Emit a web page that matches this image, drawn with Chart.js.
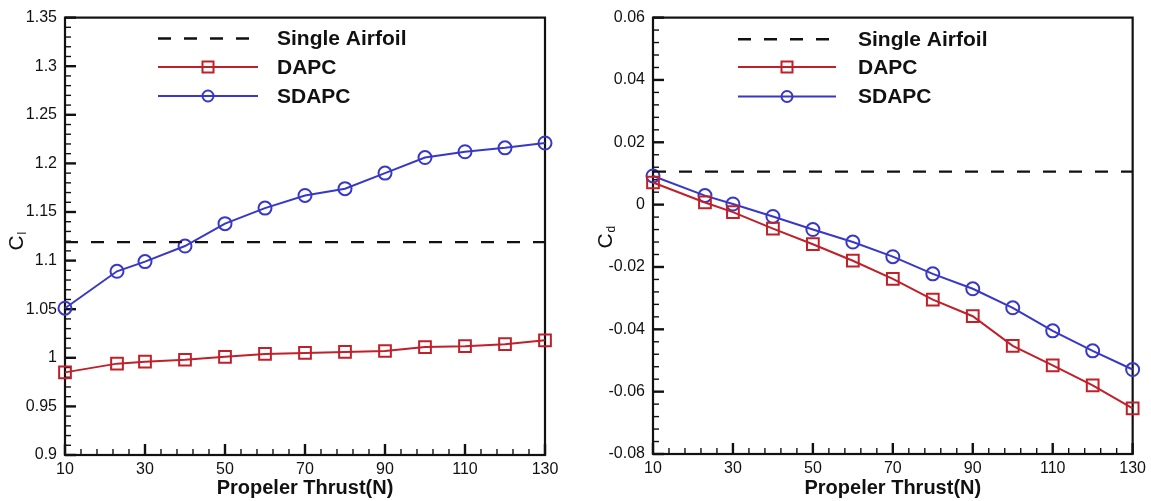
<!DOCTYPE html>
<html>
<head>
<meta charset="utf-8">
<script src="https://cdn.jsdelivr.net/npm/chart.js@4.4.1/dist/chart.umd.min.js"></script>
<style>
  html, body { margin: 0; padding: 0; background: #ffffff; }
  #wrap { position: relative; width: 1151px; height: 501px; overflow: hidden; background: #fff; }
  #c1 { position: absolute; left: 0; top: 0; }
  #c2 { position: absolute; left: 575px; top: 0; }
</style>
</head>
<body>
<div id="wrap">
  <canvas id="c1" width="575" height="501"></canvas>
  <canvas id="c2" width="576" height="501"></canvas>
</div>
<script>
// ---------------- data ----------------
const thrust = [10, 23, 30, 40, 50, 60, 70, 80, 90, 100, 110, 120, 130];

const clDAPC  = [0.985, 0.994, 0.996, 0.998, 1.001, 1.004, 1.005, 1.006, 1.007, 1.011, 1.012, 1.014, 1.018];
const clSDAPC = [1.051, 1.089, 1.099, 1.115, 1.138, 1.154, 1.167, 1.174, 1.190, 1.206, 1.212, 1.216, 1.221];
const clSingle = 1.119;

const cdDAPC  = [0.0071, 0.0007, -0.0024, -0.0077, -0.0127, -0.0180, -0.0238, -0.0305, -0.0358, -0.0453, -0.0516, -0.0580, -0.0654];
const cdSDAPC = [0.0092, 0.0029, 0.0002, -0.0038, -0.0080, -0.0120, -0.0167, -0.0222, -0.0270, -0.0331, -0.0405, -0.0469, -0.0529];
const cdSingle = 0.0106;

const xTickValues = [10, 30, 50, 70, 90, 110, 130];
const xTickLabels = ['10', '30', '50', '70', '90', '110', '130'];

const clTickValues = [0.9, 0.95, 1.0, 1.05, 1.1, 1.15, 1.2, 1.25, 1.3, 1.35];
const clTickLabels = ['0.9', '0.95', '1', '1.05', '1.1', '1.15', '1.2', '1.25', '1.3', '1.35'];

const cdTickValues = [-0.08, -0.06, -0.04, -0.02, 0, 0.02, 0.04, 0.06];
const cdTickLabels = ['-0.08', '-0.06', '-0.04', '-0.02', '0', '0.02', '0.04', '0.06'];

const seriesNames = ['Single Airfoil', 'DAPC', 'SDAPC'];
const xTitle = 'Propeler Thrust(N)';

// ---------------- styles ----------------
const RED = '#c0202a';
const BLUE = '#3838c8';
const INK = '#111111';
const FONT = '"Liberation Sans", Arial, Helvetica, sans-serif';

function pairs(xs, ys) { return xs.map((x, i) => ({ x: x, y: ys[i] })); }

// plugin: inward ticks, frame, axis symbol title, legend
const tecplotPlugin = {
  id: 'tecplot',
  beforeDatasetsDraw(chart, args, o) {
    const { ctx, chartArea: a, scales } = chart;
    const xs = scales.x, ys = scales.y;
    ctx.save();
    ctx.strokeStyle = INK;
    const nx = Math.round((xs.max - xs.min) / o.xMinor);
    for (let i = 0; i <= nx; i++) {
      const v = xs.min + i * o.xMinor;
      const r = (v - xs.min) / o.xMajor;
      const major = Math.abs(r - Math.round(r)) < 1e-6;
      const px = xs.getPixelForValue(v);
      ctx.lineWidth = major ? 2.4 : 1.4;
      ctx.beginPath();
      ctx.moveTo(px, a.bottom);
      ctx.lineTo(px, a.bottom - (major ? 11 : 6));
      ctx.stroke();
    }
    const ny = Math.round((ys.max - ys.min) / o.yMinor);
    for (let i = 0; i <= ny; i++) {
      const v = ys.min + i * o.yMinor;
      const r = (v - ys.min) / o.yMajor;
      const major = Math.abs(r - Math.round(r)) < 1e-6;
      const py = ys.getPixelForValue(v);
      ctx.lineWidth = major ? 2.4 : 1.4;
      ctx.beginPath();
      ctx.moveTo(a.left, py);
      ctx.lineTo(a.left + (major ? 11 : 6), py);
      ctx.stroke();
    }
    ctx.lineWidth = 2.2;
    ctx.strokeRect(a.left, a.top, a.right - a.left, a.bottom - a.top);
    ctx.restore();
  },
  afterDraw(chart, args, o) {
    const { ctx } = chart;
    ctx.save();
    ctx.fillStyle = INK;
    ctx.translate(o.symX, o.symY);
    ctx.rotate(-Math.PI / 2);
    ctx.textAlign = 'center';
    ctx.textBaseline = 'middle';
    ctx.font = '21px ' + FONT;
    ctx.fillText('C', 0, 0);
    const cw = ctx.measureText('C').width;
    ctx.font = '12px ' + FONT;
    ctx.textAlign = 'left';
    ctx.fillText(o.sub, cw / 2 + 1, 6);
    ctx.restore();

    ctx.save();
    chart.data.datasets.forEach((ds, i) => {
      const y = o.legY[i];
      ctx.strokeStyle = ds.borderColor;
      ctx.lineWidth = ds.borderWidth;
      ctx.setLineDash(ds.borderDash || []);
      ctx.beginPath();
      ctx.moveTo(o.legX1, y);
      ctx.lineTo(o.legX2, y);
      ctx.stroke();
      ctx.setLineDash([]);
      if (ds.pointRadius > 0) {
        const mx = (o.legX1 + o.legX2) / 2;
        ctx.lineWidth = 2;
        ctx.strokeStyle = ds.pointBorderColor;
        ctx.beginPath();
        if (ds.pointStyle === 'rect') {
          ctx.rect(mx - 5.5, y - 5.5, 11, 11);
        } else {
          ctx.arc(mx, y, 5.5, 0, Math.PI * 2);
        }
        ctx.stroke();
      }
      ctx.fillStyle = INK;
      ctx.font = 'bold 21px ' + FONT;
      ctx.textAlign = 'left';
      ctx.textBaseline = 'middle';
      ctx.fillText(ds.label, o.legTextX, y + 1);
    });
    ctx.restore();
  }
};

function makeChart(canvasId, cfg) {
  return new Chart(document.getElementById(canvasId), {
    type: 'line',
    data: {
      datasets: [
        {
          label: seriesNames[0],
          data: [{ x: thrust[0], y: cfg.single }, { x: thrust[thrust.length - 1], y: cfg.single }],
          borderColor: INK, borderWidth: 2.4, borderDash: [13, 13],
          pointRadius: 0, fill: false, clip: false
        },
        {
          label: seriesNames[1],
          data: pairs(thrust, cfg.dapc),
          borderColor: RED, borderWidth: 2, pointStyle: 'rect', pointRadius: 8.3,
          pointBorderColor: RED, pointBackgroundColor: 'rgba(0,0,0,0)', pointBorderWidth: 2,
          fill: false, clip: false, tension: 0
        },
        {
          label: seriesNames[2],
          data: pairs(thrust, cfg.sdapc),
          borderColor: BLUE, borderWidth: 2, pointStyle: 'circle', pointRadius: 6.5,
          pointBorderColor: BLUE, pointBackgroundColor: 'rgba(0,0,0,0)', pointBorderWidth: 2,
          fill: false, clip: false, tension: 0
        }
      ]
    },
    options: {
      responsive: false,
      animation: false,
      devicePixelRatio: 1,
      layout: { autoPadding: false, padding: { left: 0, top: 14, right: cfg.padRight, bottom: 0 } },
      plugins: {
        legend: { display: false },
        tooltip: { enabled: false },
        tecplot: cfg.plug
      },
      scales: {
        x: {
          type: 'linear', min: 10, max: 130,
          grid: { display: false, drawTicks: false },
          border: { display: false },
          afterFit: s => { s.height = cfg.xHeight; },
          afterBuildTicks: s => { s.ticks = xTickValues.map(v => ({ value: v })); },
          ticks: {
            autoSkip: false, maxRotation: 0, padding: 5, color: INK,
            font: { family: FONT, size: 16 },
            callback: (v, i) => xTickLabels[i]
          },
          title: {
            display: true, text: xTitle, color: INK,
            font: { family: FONT, size: 20, weight: 'bold' },
            padding: { top: 0, bottom: 1 }
          }
        },
        y: {
          type: 'linear', min: cfg.yMin, max: cfg.yMax,
          grid: { display: false, drawTicks: false },
          border: { display: false },
          afterFit: s => { s.width = cfg.yWidth; },
          afterBuildTicks: s => { s.ticks = cfg.yTicks.map(v => ({ value: v })); },
          ticks: {
            autoSkip: false, padding: 8, color: INK,
            font: { family: FONT, size: 16 },
            callback: (v, i) => cfg.yLabels[i]
          }
        }
      }
    },
    plugins: [tecplotPlugin]
  });
}

makeChart('c1', {
  single: clSingle, dapc: clDAPC, sdapc: clSDAPC,
  yMin: 0.9, yMax: 1.35, yTicks: clTickValues, yLabels: clTickLabels,
  yWidth: 65, xHeight: 46, padRight: 30,
  plug: { xMinor: 4, xMajor: 20, yMinor: 0.01, yMajor: 0.05,
          symX: 17, symY: 243, sub: 'l',
          legX1: 158, legX2: 258, legTextX: 277, legY: [38.5, 67, 96] }
});

makeChart('c2', {
  single: cdSingle, dapc: cdDAPC, sdapc: cdSDAPC,
  yMin: -0.08, yMax: 0.06, yTicks: cdTickValues, yLabels: cdTickLabels,
  yWidth: 78, xHeight: 47, padRight: 18,
  plug: { xMinor: 4, xMajor: 20, yMinor: 0.004, yMajor: 0.02,
          symX: 31, symY: 241, sub: 'd',
          legX1: 163, legX2: 261, legTextX: 283, legY: [39.3, 67, 96.5] }
});
</script>
</body>
</html>
